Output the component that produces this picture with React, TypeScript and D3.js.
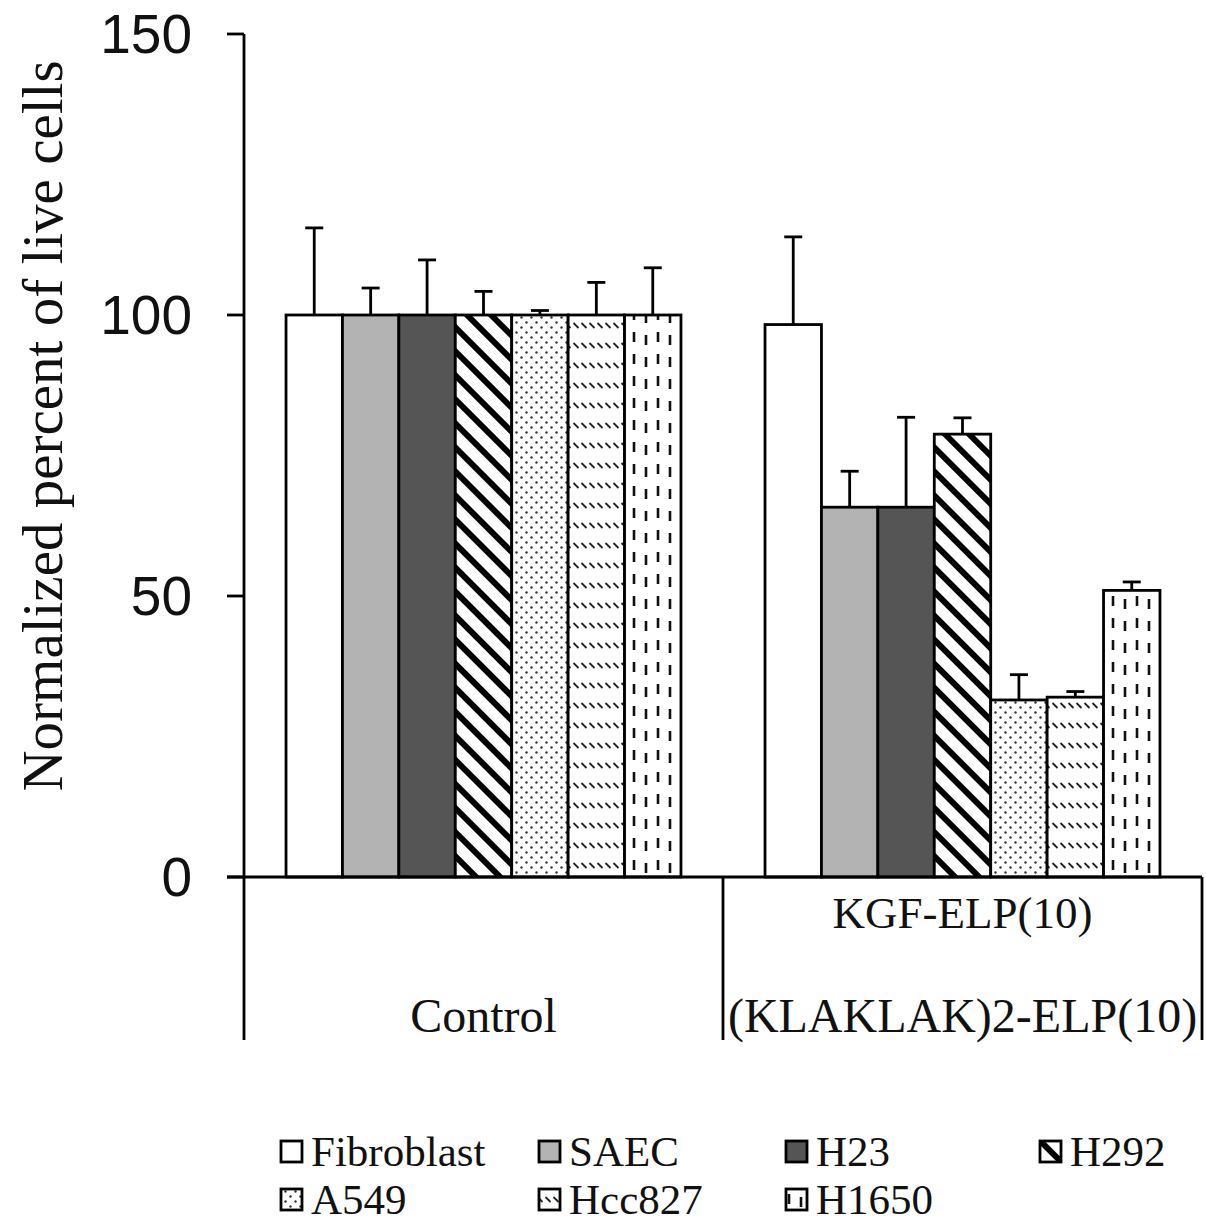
import React from "react";
import * as d3 from "d3";

const groups = ["Control", "Treatment"];
const series = ["Fibroblast", "SAEC", "H23", "H292", "A549", "Hcc827", "H1650"];
const controlValues = [100, 100, 100, 100, 100, 100, 100];
const controlErrors = [15.5, 4.8, 9.8, 4.2, 0.8, 5.8, 8.4];
const treatValues = [98.3, 65.8, 65.8, 78.8, 31.5, 32.0, 51.0];
const treatErrors = [15.6, 6.4, 16.0, 2.9, 4.5, 1.0, 1.5];
const yTicks = [0, 50, 100, 150];
const legendRows = [
  ["Fibroblast", "SAEC", "H23", "H292"],
  ["A549", "Hcc827", "H1650"],
];

const fills: Record<string, string> = {
  Fibroblast: "#ffffff",
  SAEC: "#b3b3b3",
  H23: "#555555",
  H292: "url(#pH292)",
  A549: "url(#pA549)",
  Hcc827: "url(#pHcc827)",
  H1650: "url(#pH1650)",
};

export default function App() {
  const W = 1206, H = 1224;
  const axisX = 244, rightX = 1202;
  const y = d3.scaleLinear().domain([0, 150]).range([877, 34]);
  const xg = d3.scaleBand().domain(groups).range([axisX, rightX]).padding(0);
  const xs = d3.scaleBand().domain(series).range([0, xg.bandwidth()]).paddingInner(0).paddingOuter(0.745);
  const data = [
    { g: "Control", vals: controlValues, errs: controlErrors },
    { g: "Treatment", vals: treatValues, errs: treatErrors },
  ];
  const serif = "'Liberation Serif', 'Times New Roman', serif";
  const sans = "'Liberation Sans', Arial, sans-serif";
  const y0 = y(0);
  const legendX = [278, 536, 783, 1037];
  const legendY = [1166, 1214];
  const sw = 2.8;

  return (
    <svg width={W} height={H} style={{ position: "absolute", left: 0, top: 0, background: "#fff" }}>
      <defs>
        <pattern id="pH292" patternUnits="userSpaceOnUse" width={17} height={17} patternTransform="rotate(-45)">
          <rect x={0} y={0} width={17} height={17} fill="#fff" />
          <rect x={0} y={0} width={6} height={17} fill="#000" />
        </pattern>
        <pattern id="pA549" patternUnits="userSpaceOnUse" width={10} height={10}>
          <rect x={0} y={0} width={10} height={10} fill="#fff" />
          <circle cx={2.5} cy={2.5} r={1.2} fill="#333" />
          <circle cx={7.5} cy={7.5} r={1.2} fill="#333" />
        </pattern>
        <pattern id="pHcc827" patternUnits="userSpaceOnUse" width={8} height={20}>
          <rect x={0} y={0} width={8} height={20} fill="#fff" />
          <line x1={1.5} y1={3} x2={6.5} y2={8} stroke="#222" strokeWidth={1.8} />
        </pattern>
        <pattern id="pH1650" patternUnits="userSpaceOnUse" width={24} height={22}>
          <rect x={0} y={0} width={24} height={22} fill="#fff" />
          <line x1={6} y1={2} x2={6} y2={12} stroke="#111" strokeWidth={2.6} />
          <line x1={18} y1={5} x2={18} y2={15} stroke="#111" strokeWidth={2.6} />
        </pattern>
      </defs>

      {/* bars */}
      {data.map((d) => (
        <g key={d.g} transform={`translate(${xg(d.g)},0)`}>
          {series.map((s, i) => {
            const x0 = xs(s)!;
            const bw = xs.bandwidth();
            const top = y(d.vals[i]);
            const et = y(d.vals[i] + d.errs[i]);
            const cx = x0 + bw / 2;
            return (
              <g key={s}>
                <line x1={cx} x2={cx} y1={top} y2={et} stroke="#000" strokeWidth={sw} />
                <line x1={cx - 9} x2={cx + 9} y1={et} y2={et} stroke="#000" strokeWidth={sw} />
                <rect x={x0} y={top} width={bw} height={y0 - top} fill={fills[s]} stroke="#000" strokeWidth={sw} />
              </g>
            );
          })}
        </g>
      ))}

      {/* y axis */}
      <line x1={axisX} x2={axisX} y1={y(150)} y2={1040} stroke="#000" strokeWidth={sw} />
      {yTicks.map((t) => (
        <g key={t}>
          <line x1={227} x2={axisX} y1={y(t)} y2={y(t)} stroke="#000" strokeWidth={sw} />
          <text x={192} y={y(t) + 19} textAnchor="end" fontFamily={sans} fontSize={55} fill="#111">
            {t}
          </text>
        </g>
      ))}
      {/* x axis */}
      <line x1={227} x2={rightX} y1={y0} y2={y0} stroke="#000" strokeWidth={sw} />
      <line x1={xg("Treatment")!} x2={xg("Treatment")!} y1={y0} y2={1040} stroke="#000" strokeWidth={sw} />
      <line x1={rightX} x2={rightX} y1={y0} y2={1040} stroke="#000" strokeWidth={sw} />

      {/* category labels */}
      <text x={xg("Control")! + xg.bandwidth() / 2} y={1032} textAnchor="middle" fontFamily={serif} fontSize={48} fill="#111">
        Control
      </text>
      <text x={xg("Treatment")! + xg.bandwidth() / 2} y={928} textAnchor="middle" fontFamily={serif} fontSize={45} fill="#111">
        KGF-ELP(10)
      </text>
      <text x={xg("Treatment")! + xg.bandwidth() / 2} y={1032} textAnchor="middle" fontFamily={serif} fontSize={48} fill="#111">
        (KLAKLAK)2-ELP(10)
      </text>

      {/* y label */}
      <text
        transform={`translate(62,${(62 + 790) / 2}) rotate(-90)`}
        textAnchor="middle"
        fontFamily={serif}
        fontSize={57}
        fill="#111"
      >
        Normalized percent of live cells
      </text>

      {/* legend */}
      {legendRows.map((row, r) =>
        row.map((s, c) => (
          <g key={s} transform={`translate(${legendX[c]},${legendY[r]})`}>
            <rect x={3} y={-25} width={21} height={21} fill={fills[s]} stroke="#000" strokeWidth={sw} />
            <text x={33} y={0} fontFamily={serif} fontSize={43} fill="#111">
              {s}
            </text>
          </g>
        ))
      )}
    </svg>
  );
}
